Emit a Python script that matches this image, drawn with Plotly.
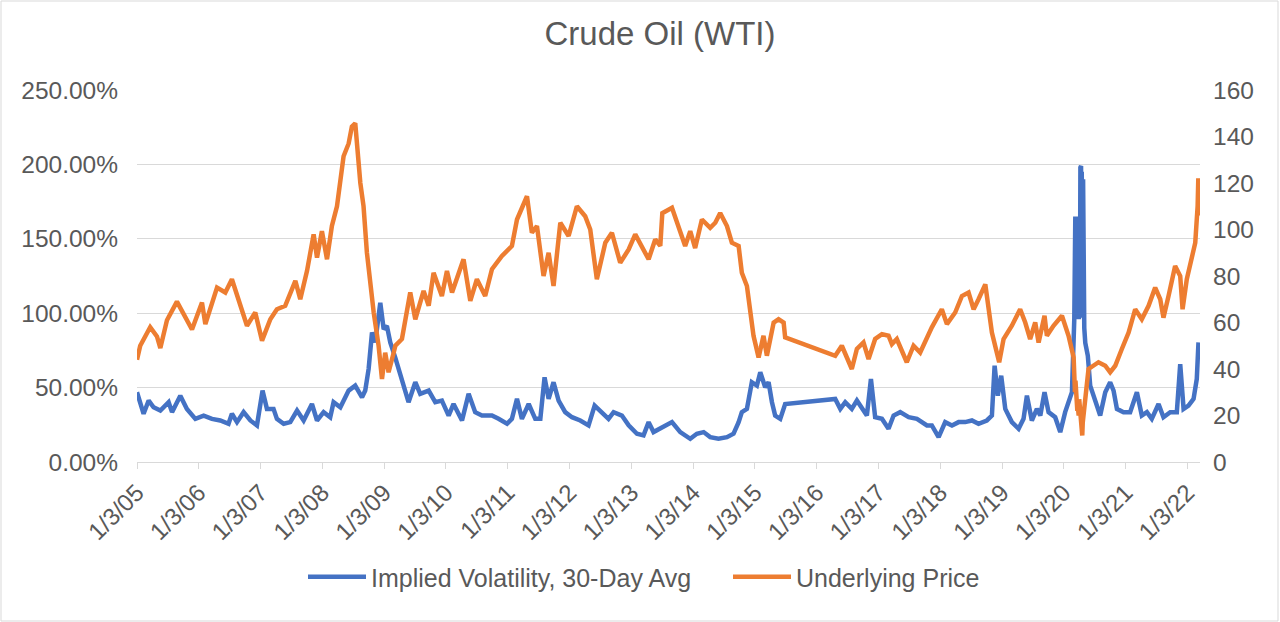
import plotly.graph_objects as go

# ---------------- data ----------------
price_dates = [
    "2005-01-03", "2005-01-22", "2005-03-22", "2005-05-01", "2005-05-21", "2005-06-29",
    "2005-08-27", "2005-10-06", "2005-11-24", "2006-01-22", "2006-02-11", "2006-04-21",
    "2006-06-09", "2006-07-18", "2006-09-15", "2006-10-15", "2006-12-03", "2007-01-12",
    "2007-03-02", "2007-04-10", "2007-05-29", "2007-07-28", "2007-08-26", "2007-10-05",
    "2007-11-13", "2007-12-03", "2008-01-01", "2008-01-31", "2008-02-29", "2008-03-30",
    "2008-05-08", "2008-06-07", "2008-06-26", "2008-07-16", "2008-08-15", "2008-09-03",
    "2008-09-23", "2008-11-02", "2008-12-01", "2008-12-21", "2009-01-09", "2009-01-29",
    "2009-02-28", "2009-03-10", "2009-04-18", "2009-06-06", "2009-07-06", "2009-08-24",
    "2009-09-23", "2009-10-22", "2009-12-10", "2010-01-09", "2010-02-08", "2010-04-17",
    "2010-05-27", "2010-07-05", "2010-08-23", "2010-10-02", "2010-11-30", "2011-01-28",
    "2011-02-27", "2011-04-27", "2011-05-26", "2011-06-25", "2011-08-03", "2011-09-02",
    "2011-10-01", "2011-11-10", "2011-12-29", "2012-02-16", "2012-04-05", "2012-05-05",
    "2012-06-13", "2012-08-02", "2012-09-10", "2012-10-29", "2012-12-18", "2013-01-26",
    "2013-04-15", "2013-05-24", "2013-06-23", "2013-07-05", "2013-08-31", "2013-10-09",
    "2013-11-17", "2013-12-17", "2014-01-15", "2014-02-24", "2014-04-14", "2014-05-14",
    "2014-06-12", "2014-07-22", "2014-08-20", "2014-09-29", "2014-10-18", "2014-11-17",
    "2014-12-07", "2014-12-26", "2015-01-25", "2015-02-23", "2015-03-15", "2015-04-24",
    "2015-05-23", "2015-06-22", "2015-07-01", "2016-04-22", "2016-05-31", "2016-07-29",
    "2016-08-28", "2016-10-06", "2016-11-05", "2016-12-14", "2017-01-23", "2017-03-03",
    "2017-03-23", "2017-04-21", "2017-06-19", "2017-07-29", "2017-09-06", "2017-10-26",
    "2017-11-14", "2018-01-12", "2018-02-11", "2018-04-01", "2018-05-11", "2018-06-19",
    "2018-07-19", "2018-08-17", "2018-09-26", "2018-11-04", "2018-12-17", "2019-01-12",
    "2019-03-02", "2019-04-20", "2019-05-20", "2019-06-18", "2019-07-18", "2019-08-07",
    "2019-09-11", "2019-09-25", "2019-11-03", "2019-12-23", "2020-01-31", "2020-03-01",
    "2020-03-05", "2020-03-09", "2020-03-12", "2020-03-16", "2020-03-19", "2020-03-23",
    "2020-03-26", "2020-03-31", "2020-04-03", "2020-04-07", "2020-04-10", "2020-04-14",
    "2020-04-17", "2020-04-21", "2020-04-24", "2020-04-29", "2020-05-04", "2020-05-08",
    "2020-05-14", "2020-05-28", "2020-07-26", "2020-09-04",
    "2020-10-03", "2020-11-02", "2020-12-11", "2021-01-20", "2021-02-28", "2021-04-08",
    "2021-05-18", "2021-06-26", "2021-07-26", "2021-08-14", "2021-09-13", "2021-10-22",
    "2021-11-21", "2021-12-05", "2021-12-30", "2022-01-29", "2022-02-18", "2022-03-04",
    "2022-03-08", "2022-03-11",
]
price_values = [
    44, 50, 58, 54, 49, 61,
    69, 64, 57, 68.6, 59.3, 75,
    72.9, 78.6, 64.3, 58.6, 64.3, 52.2,
    61.4, 65.7, 67.2, 77.9, 70, 82.2,
    97.9, 87.9, 99.3, 87.2, 101.5, 110,
    131.5, 137, 144.3, 145.7, 120, 110,
    90, 64.3, 50, 35.7, 47, 38.6,
    47, 50, 52.9, 72.9, 61.4, 73.6,
    67.2, 81.4, 71.4, 82.2, 72.9, 87.2,
    69.3, 78.6, 71.4, 82.9, 88.6, 92.9,
    104.3, 114.3, 98.6, 101.5, 80, 90,
    75.7, 102.9, 97.2, 110, 105.7, 100,
    78.6, 94.3, 98.6, 85.7, 91.4, 97.9,
    87.2, 95.7, 93, 107, 109.3, 101.5,
    92.9, 99.3, 92, 104.3, 100.7, 102.9,
    107.1, 101.5, 94.3, 92.9, 81.4, 75.7,
    64.3, 54.3, 45, 54.3, 45.7, 60,
    61.4, 60, 53.6, 45.7, 50, 40,
    48.6, 51.4, 44.3, 52.9, 55, 54.3,
    50.7, 52.9, 42.9, 50, 47.1, 55,
    57.9, 65.7, 59.3, 64.3, 71.4, 72.9,
    65.7, 70, 76.4, 55.7, 42.9, 52.9,
    58.6, 65.7, 60, 52.9, 60, 51.4,
    62.9, 54.3, 58.6, 62.9, 54.3, 45,
    40, 30, 35, 25, 28, 22,
    24, 20, 27, 22, 24, 18,
    12, 11.4, 17, 20, 25, 28,
    32, 40, 42.9, 41.4,
    38.6, 41.4, 48.6, 55.7, 65.7, 61.4,
    67.2, 75, 70, 62.1, 71.4, 84.3,
    80, 65.7, 78.6, 88.6, 94.3, 110,
    122, 106,
]

vol_dates = [
    "2005-01-03", "2005-01-13", "2005-02-11", "2005-03-13", "2005-04-11", "2005-05-21",
    "2005-07-09", "2005-07-29", "2005-09-16", "2005-10-25", "2005-12-14", "2006-02-01",
    "2006-03-22", "2006-05-10", "2006-06-28", "2006-07-18", "2006-08-17", "2006-09-25",
    "2006-11-04", "2006-12-13", "2007-01-15", "2007-02-10", "2007-03-21", "2007-04-10",
    "2007-05-20", "2007-06-28", "2007-08-07", "2007-09-15", "2007-11-03", "2007-12-03",
    "2008-01-11", "2008-02-19", "2008-03-10", "2008-04-19", "2008-06-07", "2008-07-16",
    "2008-08-25", "2008-09-13", "2008-10-03", "2008-10-23", "2008-11-11", "2008-12-11",
    "2008-12-31", "2009-01-19", "2009-02-08", "2009-03-10", "2009-03-29", "2009-04-28",
    "2009-05-27", "2009-07-06", "2009-08-04", "2009-09-23", "2009-11-01", "2009-12-10",
    "2010-01-19", "2010-02-17", "2010-04-08", "2010-05-17", "2010-06-25", "2010-08-04",
    "2010-10-02", "2010-11-10", "2010-12-30", "2011-01-28", "2011-02-27", "2011-03-28",
    "2011-05-07", "2011-06-15", "2011-07-15", "2011-08-09", "2011-09-02", "2011-10-01",
    "2011-10-31", "2011-12-09", "2012-01-18", "2012-03-07", "2012-04-25", "2012-05-31",
    "2012-07-13", "2012-08-21", "2012-09-20", "2012-11-08", "2012-12-18", "2013-02-05",
    "2013-03-16", "2013-04-15", "2013-05-14", "2013-07-03", "2013-08-31", "2013-10-19",
    "2013-12-17", "2014-01-25", "2014-03-06", "2014-04-14", "2014-06-02", "2014-07-22",
    "2014-08-30", "2014-09-29", "2014-10-18", "2014-11-17", "2014-12-16", "2015-01-15",
    "2015-02-04", "2015-03-05", "2015-03-25", "2015-04-14", "2015-05-03", "2015-06-02",
    "2015-06-22", "2015-07-01", "2016-04-22", "2016-05-22", "2016-06-20", "2016-07-29",
    "2016-08-28", "2016-09-27", "2016-10-26", "2016-11-19", "2016-12-14", "2017-01-23",
    "2017-03-03", "2017-04-02", "2017-05-11", "2017-06-30", "2017-08-18", "2017-10-16",
    "2017-11-14", "2017-12-24", "2018-02-01", "2018-03-13", "2018-04-21", "2018-05-30",
    "2018-07-09", "2018-08-17", "2018-10-05", "2018-11-04", "2018-11-20", "2018-12-09",
    "2018-12-29", "2019-01-22", "2019-03-02", "2019-04-11", "2019-05-10", "2019-05-30",
    "2019-06-28", "2019-07-28", "2019-08-17", "2019-09-11", "2019-10-05", "2019-11-13",
    "2019-12-13", "2020-01-11", "2020-02-20", "2020-03-05", "2020-03-07", "2020-03-09",
    "2020-03-11", "2020-03-13", "2020-03-15", "2020-03-17", "2020-03-19", "2020-03-21",
    "2020-03-23", "2020-03-25", "2020-03-27", "2020-03-29", "2020-04-01", "2020-04-04",
    "2020-04-07", "2020-04-10", "2020-04-12", "2020-04-14", "2020-04-16", "2020-04-18",
    "2020-04-20", "2020-04-22", "2020-04-24", "2020-04-26", "2020-04-28", "2020-04-30",
    "2020-05-03", "2020-05-09", "2020-05-24", "2020-06-07", "2020-07-07", "2020-08-05",
    "2020-09-04", "2020-10-03", "2020-10-23", "2020-11-12", "2020-12-21", "2021-01-29",
    "2021-03-10", "2021-04-08", "2021-05-08", "2021-06-06", "2021-07-16", "2021-08-14",
    "2021-09-23", "2021-11-01", "2021-11-21", "2021-12-11", "2022-01-09", "2022-02-08",
    "2022-02-27", "2022-03-09",
]
vol_values = [
    46.9, 42.4, 32.4, 41.3, 36.8, 34.6,
    40.2, 33.5, 44.6, 35.7, 29, 31.2,
    29, 27.9, 25.7, 32.4, 26.8, 33.5,
    27.9, 24.6, 48, 35.7, 35.7, 29,
    25.7, 26.8, 34.6, 27.9, 39, 27.9,
    33.5, 30.1, 40.2, 36.8, 48, 51.3,
    43.5, 48, 62.5, 87, 80.4, 107,
    89.3, 91.5, 80.4, 70, 62.5, 49.1,
    40.2, 53.6, 45.8, 48, 40.2, 41.3,
    31.2, 39, 27.9, 45.8, 33.5, 31.2,
    31.2, 29, 25.7, 29, 42.4, 29,
    39, 29, 29, 56.9, 42.4, 53.6,
    41.3, 33.5, 30.1, 27.9, 24.6, 37.9,
    33.5, 29, 33.5, 31.2, 24.6, 19,
    17.9, 26.8, 20.1, 23.4, 26.8, 20.1,
    15.6, 19, 20.1, 16.7, 15.6, 16.7,
    19, 26.8, 33.5, 35.7, 53.6, 51.3,
    60.3, 50.2, 53.6, 40.2, 31.2, 29,
    36.8, 39, 42.4, 35.7, 40.2, 35.7,
    41.3, 35.7, 31.2, 55.8, 30.1, 29,
    22.3, 31.2, 33.5, 30.1, 29, 24.6,
    24.6, 16.7, 26.8, 24.6, 26.8, 26.8,
    27.9, 25.7, 27.9, 31.2, 64.7, 44.6,
    58, 35.7, 26.8, 22.3, 29, 44.6,
    27.9, 35.7, 31.2, 46.9, 33.5, 30.1,
    20.1, 33.5, 46.9, 96, 150, 110,
    165, 100, 160, 105, 165, 100,
    162, 98, 160, 100, 96, 110,
    97, 198, 110, 199, 100, 195,
    105, 192, 100, 190, 100, 160,
    90, 80, 71.4, 51.3, 40.2, 31.2,
    46.9, 53.6, 48, 35.7, 33.5, 33.5,
    46.9, 31.2, 33.5, 29, 39, 30.1,
    33.5, 33.5, 65.8, 35.7, 37.9, 42.4,
    55.8, 80.4,
]

tick_dates = [f"{y}-01-03" for y in range(2005, 2023)]
tick_labels = [f"1/3/{y % 100:02d}" for y in range(2005, 2023)]
vol_ticks = [0, 50, 100, 150, 200, 250]
vol_tick_labels = [f"{v:.2f}%" for v in vol_ticks]
price_ticks = [0, 20, 40, 60, 80, 100, 120, 140, 160]

# ---------------- figure ----------------
FONT = "Liberation Sans, Arial, Helvetica, sans-serif"
TXT = "#595959"
GRID = "#D9D9D9"

fig = go.Figure()
fig.add_trace(go.Scatter(
    x=vol_dates, y=vol_values, mode="lines",
    name="Implied Volatility, 30-Day Avg",
    line=dict(color="#4472C4", width=4.5),
    yaxis="y", legend="legend",
))
fig.add_trace(go.Scatter(
    x=price_dates, y=price_values, mode="lines",
    name="Underlying Price",
    line=dict(color="#ED7D31", width=4.5),
    yaxis="y2", legend="legend2",
))

legend_common = dict(
    orientation="h", xref="container", xanchor="left",
    yref="container", y=1 - 577 / 622, yanchor="middle",
    font=dict(size=25, color=TXT), itemwidth=58, bgcolor="rgba(0,0,0,0)",
)

fig.update_layout(
    width=1280, height=622,
    paper_bgcolor="white", plot_bgcolor="white",
    margin=dict(l=137, r=80, t=90, b=160, autoexpand=False),
    font=dict(family=FONT, size=25, color=TXT),
    title=dict(text="Crude Oil (WTI)", x=660 / 1280, xref="container", xanchor="center",
               y=1 - 33 / 622, yref="container", yanchor="middle",
               font=dict(size=33, color=TXT, family=FONT)),
    xaxis=dict(
        type="date", range=["2005-01-03", "2022-03-18"],
        tickmode="array", tickvals=tick_dates, ticktext=tick_labels,
        tickangle=-45, showgrid=False, showline=True, linecolor=GRID, linewidth=1,
        ticks="outside", ticklen=6, tickcolor=GRID,
        tickfont=dict(size=24, color=TXT), zeroline=False,
    ),
    yaxis=dict(
        range=[0, 250], tickmode="array", tickvals=vol_ticks, ticktext=vol_tick_labels,
        showgrid=True, gridcolor=GRID, gridwidth=1,
        zeroline=False, showline=False, ticks="",
        tickfont=dict(size=24.5, color=TXT), ticklabelstandoff=18,
    ),
    yaxis2=dict(
        range=[0, 160], tickmode="array", tickvals=price_ticks,
        overlaying="y", side="right", showgrid=False, zeroline=False,
        showline=False, ticks="",
        tickfont=dict(size=24.5, color=TXT), ticklabelstandoff=12,
    ),
    legend=dict(x=303 / 1280, **legend_common),
    legend2=dict(x=728 / 1280, **legend_common),
    showlegend=True,
    shapes=[dict(type="rect", xref="paper", yref="paper",
                 x0=-136 / 1063, x1=1 + 78 / 1063, y0=-159 / 372, y1=1 + 89 / 372,
                 line=dict(color=GRID, width=1), fillcolor="rgba(0,0,0,0)", layer="below")],
)

fig.write_html("out.html", config={"displayModeBar": False},
               post_script="document.body.style.margin='0px';")
